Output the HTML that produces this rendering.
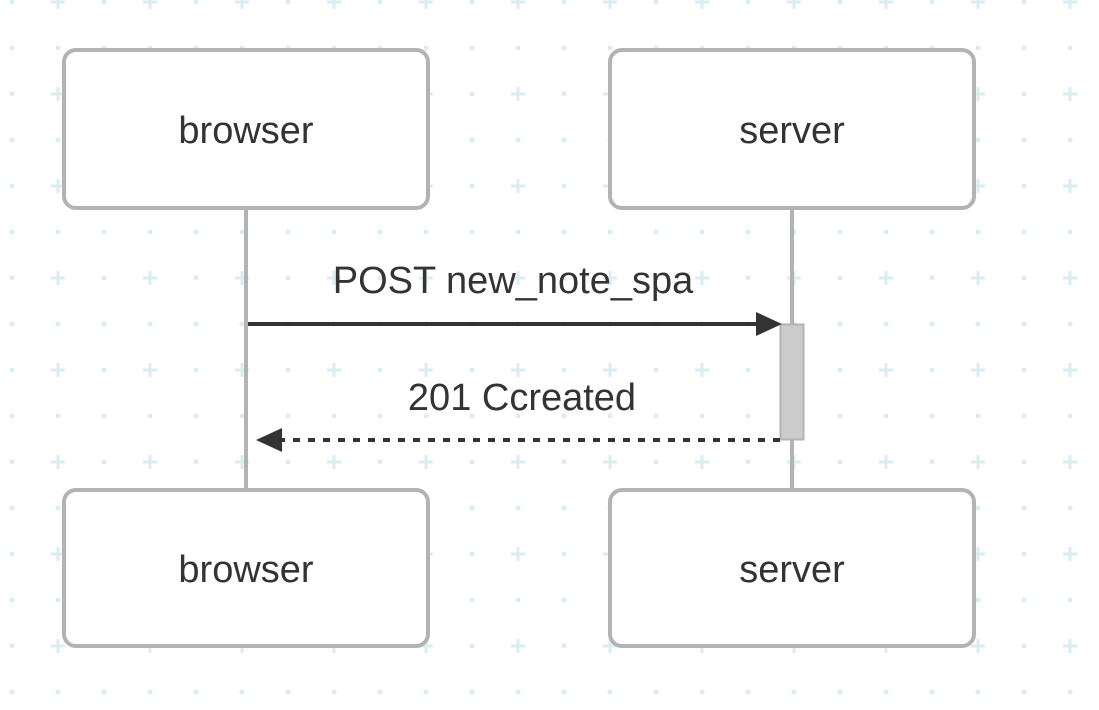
<!DOCTYPE html>
<html><head><style>
html,body{margin:0;padding:0;background:#fff;}
svg{display:block;}
text{font-family:"Liberation Sans",Arial,sans-serif;fill:#333;}
</style></head><body>
<svg width="1099" height="710" viewBox="0 0 1099 710" xmlns="http://www.w3.org/2000/svg">
<defs>
<pattern id="g" x="-34" y="-44" width="92" height="92" patternUnits="userSpaceOnUse">
<circle cx="46" cy="46" r="2.5" fill="#d8eef0"/>
<circle cx="0" cy="0" r="2.5" fill="#d8eef0"/>
<circle cx="46" cy="0" r="2.5" fill="#d8eef0"/>
<path d="M-7 46H7M0 39V53M85 46H99M92 39V53" stroke="#d8eef0" stroke-width="3"/>
<circle cx="0" cy="92" r="2.5" fill="#d8eef0"/>
<circle cx="46" cy="92" r="2.5" fill="#d8eef0"/>
<circle cx="92" cy="0" r="2.5" fill="#d8eef0"/>
<circle cx="92" cy="92" r="2.5" fill="#d8eef0"/>
</pattern>
</defs>
<rect width="1099" height="710" fill="url(#g)"/>
<line x1="246" y1="208" x2="246" y2="490" stroke="#b3b3b3" stroke-width="4"/>
<line x1="792" y1="208" x2="792" y2="490" stroke="#b3b3b3" stroke-width="4"/>
<rect x="64" y="50" width="364" height="158" rx="12" fill="#fff" stroke="#b3b3b3" stroke-width="4"/>
<rect x="610" y="50" width="364" height="158" rx="12" fill="#fff" stroke="#b3b3b3" stroke-width="4"/>
<rect x="64" y="490" width="364" height="156" rx="12" fill="#fff" stroke="#b3b3b3" stroke-width="4"/>
<rect x="610" y="490" width="364" height="156" rx="12" fill="#fff" stroke="#b3b3b3" stroke-width="4"/>
<text x="246" y="143" font-size="38" text-anchor="middle">browser</text>
<text x="792" y="143" font-size="38" text-anchor="middle">server</text>
<text x="246" y="582" font-size="38" text-anchor="middle">browser</text>
<text x="792" y="582" font-size="38" text-anchor="middle">server</text>
<rect x="780.5" y="324.5" width="23" height="115" fill="#cccccc" stroke="#b3b3b3" stroke-width="2"/>
<line x1="248" y1="324" x2="760" y2="324" stroke="#333" stroke-width="4"/>
<polygon points="756,312 782,324 756,336" fill="#333"/>
<text x="513" y="293" font-size="38" text-anchor="middle">POST new_note_spa</text>
<line x1="780" y1="440" x2="280" y2="440" stroke="#333" stroke-width="4" stroke-dasharray="7,8"/>
<polygon points="282,428 256,440 282,452" fill="#333"/>
<text x="522" y="410" font-size="38" text-anchor="middle">201 Ccreated</text>
</svg>
</body></html>
